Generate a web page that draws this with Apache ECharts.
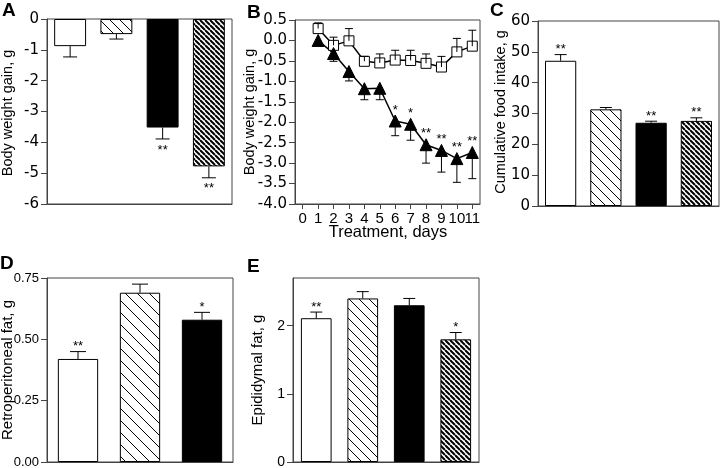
<!DOCTYPE html>
<html><head><meta charset="utf-8">
<script src="https://cdn.jsdelivr.net/npm/echarts@6/dist/echarts.min.js"></script>
<style>html,body{margin:0;padding:0;background:#fff}#c{width:720px;height:468px}</style>
</head><body><div id="c"></div>
<script>
// ---------- data ----------
const groups4 = ['G1', 'G2', 'G3', 'G4'];
const groups3 = ['G1', 'G2', 'G3'];

// Panel A: body weight gain (g)
const aMean = [-0.88, -0.49, -3.52, -4.78];
const aSem = [0.35, 0.16, 0.37, 0.37];
const aStars = ['', '', '**', '**'];

// Panel B: body weight gain over time
const bCats = ['0', '1', '2', '3', '4', '5', '6', '7', '8', '9', '10', '11'];
const bDays = ['1', '2', '3', '4', '5', '6', '7', '8', '9', '10', '11'];
const sqMean = [0.29, -0.12, -0.01, -0.51, -0.55, -0.48, -0.49, -0.56, -0.65, -0.28, -0.14];
const sqSem = [0.14, 0.20, 0.30, 0.12, 0.22, 0.24, 0.25, 0.23, 0.26, 0.33, 0.39];
const trMean = [0.0, -0.32, -0.76, -1.18, -1.17, -1.97, -2.05, -2.55, -2.69, -2.89, -2.74];
const trSem = [0.0, 0.19, 0.23, 0.27, 0.28, 0.36, 0.39, 0.45, 0.53, 0.58, 0.64];
const trStars = ['', '', '', '', '', '*', '*', '**', '**', '**', '**'];

// Panel C: cumulative food intake (g)
const cMean = [47.1, 31.35, 27.0, 27.6];
const cSem = [2.0, 0.6, 0.5, 1.0];
const cStars = ['**', '', '**', '**'];

// Panel D: retroperitoneal fat (g)
const dMean = [0.42, 0.69, 0.58];
const dSem = [0.03, 0.035, 0.03];
const dStars = ['**', '', '*'];

// Panel E: epididymal fat (g)
const eMean = [2.11, 2.40, 2.30, 1.80];
const eSem = [0.09, 0.10, 0.10, 0.10];
const eStars = ['**', '', '', '*'];

// ---------- styling helpers ----------
const FONT = "'Liberation Sans', Arial, sans-serif";
const WIDE = "'DejaVu Sans', 'Liberation Sans', Arial, sans-serif";
const NARROW = "'Liberation Sans Narrow', 'Liberation Sans', Arial, sans-serif";
const AX = '#444';

function hatch(step, lw) {
  const c = document.createElement('canvas');
  c.width = step; c.height = step;
  const g = c.getContext('2d');
  g.fillStyle = '#fff'; g.fillRect(0, 0, step, step);
  g.strokeStyle = '#000'; g.lineWidth = lw; g.beginPath();
  g.moveTo(0, 0); g.lineTo(step, step);
  g.moveTo(-step, 0); g.lineTo(0, step);
  g.moveTo(0, -step); g.lineTo(step, 0);
  g.stroke();
  return { image: c, repeat: 'repeat' };
}
const sparse = hatch(10, 1);
const sparseD = hatch(12, 1);
const dense = hatch(5, 2);
function fills(sp) { return ['#fff', sp, '#000', dense]; }

function barData(means, sp) {
  const f = fills(sp);
  return means.map((v, i) => ({ value: v, itemStyle: { color: f[i], borderColor: '#000', borderWidth: 1 } }));
}

function errSeries(idx, cats, means, sems, dir, cap) {
  return {
    type: 'custom', xAxisIndex: idx, yAxisIndex: idx, z: 5, silent: true,
    data: means.map((m, i) => [cats[i], m, sems[i]]),
    encode: { x: 0, y: 1 },
    renderItem: function (params, api) {
      const x = api.value(0), m = api.value(1), e = api.value(2);
      if (!e) return { type: 'group', children: [] };
      const p0 = api.coord([x, m]);
      const p1 = api.coord([x, m + dir * e]);
      return {
        type: 'group', children: [
          { type: 'line', shape: { x1: p0[0], y1: p0[1], x2: p1[0], y2: p1[1] }, style: { stroke: '#000', lineWidth: 1 } },
          { type: 'line', shape: { x1: p1[0] - cap, y1: p1[1], x2: p1[0] + cap, y2: p1[1] }, style: { stroke: '#000', lineWidth: 1 } }
        ]
      };
    }
  };
}

function starSeries(idx, cats, means, sems, stars, dir, off) {
  return {
    type: 'custom', xAxisIndex: idx, yAxisIndex: idx, z: 6, silent: true,
    data: means.map((m, i) => [cats[i], m, sems[i], i]),
    encode: { x: 0, y: 1 },
    renderItem: function (params, api) {
      const i = api.value(3);
      const s = stars[i];
      if (!s) return { type: 'group', children: [] };
      const p = api.coord([api.value(0), api.value(1) + dir * api.value(2)]);
      return {
        type: 'text', x: p[0], y: p[1] + off,
        style: { text: s, fill: '#000', font: '13px ' + FONT, textAlign: 'center', textVerticalAlign: 'middle' }
      };
    }
  };
}

function yAx(idx, min, max, interval, fmt, fs, fam, custom) {
  const o = {
    type: 'value', gridIndex: idx, min: min, max: max, interval: interval,
    splitLine: { show: false },
    axisLine: { show: true, lineStyle: { color: AX, width: 1 } },
    axisTick: { show: true, length: 6, lineStyle: { color: AX } },
    axisLabel: { color: '#000', fontSize: fs, fontFamily: fam, margin: 8, formatter: fmt }
  };
  if (custom) { o.axisTick.customValues = custom; o.axisLabel.customValues = custom; }
  return o;
}
function xCat(idx, cats) {
  return {
    type: 'category', gridIndex: idx, data: cats,
    axisLine: { show: true, onZero: false, lineStyle: { color: AX } },
    axisTick: { show: false }, axisLabel: { show: false }
  };
}
function grid(l, t, w, h) {
  return { left: l, top: t, width: w, height: h, show: true, borderColor: AX, borderWidth: 1, backgroundColor: 'transparent', outerBoundsMode: 'none' };
}

function letter(t, x, y) {
  return { type: 'text', x: x, y: y, style: { text: t, font: 'bold 19px ' + FONT, fill: '#000', textVerticalAlign: 'top' } };
}
function vTitle(t, x, y, fs) {
  return { type: 'text', x: x, y: y, rotation: Math.PI / 2,
    style: { text: t, font: fs + 'px ' + FONT, fill: '#000', textAlign: 'center', textVerticalAlign: 'middle' } };
}

const option = {
  animation: false,
  backgroundColor: '#fff',
  grid: [
    grid(47, 19, 185, 185),   // A
    grid(295, 20, 185, 184),  // B
    grid(538, 21, 181, 185),  // C
    grid(47, 278, 186, 184),  // D
    grid(293, 278, 186, 184)  // E
  ],
  xAxis: [
    xCat(0, groups4),
    {
      type: 'category', gridIndex: 1, data: bCats, boundaryGap: true,
      axisLine: { show: true, onZero: false, lineStyle: { color: AX } },
      axisTick: { show: true, alignWithLabel: true, length: 5, interval: 0, lineStyle: { color: AX } },
      axisLabel: { interval: 0, color: '#000', fontSize: 15, fontFamily: NARROW, margin: 7 }
    },
    xCat(2, groups4),
    xCat(3, groups3),
    xCat(4, groups4)
  ],
  yAxis: [
    yAx(0, -6, 0, 1, v => String(v), 15, WIDE),
    yAx(1, -4, 0.5, 0.5, v => v.toFixed(1), 15, WIDE),
    yAx(2, 0, 60, 10, v => String(v), 15, WIDE),
    yAx(3, 0, 0.75, 0.25, v => v.toFixed(2), 13, NARROW),
    yAx(4, 0, 2.7, 1, v => String(v), 14, FONT, [0, 1, 2])
  ],
  graphic: [
    letter('A', 2, 1), letter('B', 247, 3), letter('C', 490, 1), letter('D', 0, 254), letter('E', 247, 257),
    vTitle('Body weight gain, g', 8, 113, 14.5),
    vTitle('Body weight gain, g', 250, 112, 14.5),
    vTitle('Cumulative food intake, g', 501, 112, 14.5),
    vTitle('Retroperitoneal fat, g', 8, 370, 15),
    vTitle('Epididymal fat, g', 258, 370, 15),
    { type: 'text', x: 388, y: 232, style: { text: 'Treatment, days', font: '16.5px ' + FONT, fill: '#000', textAlign: 'center', textVerticalAlign: 'middle' } }
  ],
  series: [
    // A
    { type: 'bar', xAxisIndex: 0, yAxisIndex: 0, barWidth: '69%', data: barData(aMean, sparse), z: 2 },
    errSeries(0, groups4, aMean, aSem, -1, 7),
    starSeries(0, groups4, aMean, aSem, aStars, -1, 11),
    // B
    { type: 'line', xAxisIndex: 1, yAxisIndex: 1, data: bDays.map((d, i) => [d, sqMean[i]]),
      symbol: 'rect', symbolSize: 10, lineStyle: { color: '#000', width: 1.5 },
      itemStyle: { color: '#fff', borderColor: '#000', borderWidth: 1 }, z: 4 },
    { type: 'line', xAxisIndex: 1, yAxisIndex: 1, data: bDays.map((d, i) => [d, trMean[i]]),
      symbol: 'triangle', symbolSize: 12, lineStyle: { color: '#000', width: 1.5 },
      itemStyle: { color: '#000', borderColor: '#000' }, z: 4 },
    errSeries(1, bDays, sqMean, sqSem, 1, 4),
    errSeries(1, bDays, trMean, trSem, -1, 4),
    starSeries(1, bDays, trMean, trMean.map(() => 0), trStars, 1, -11),
    // C
    { type: 'bar', xAxisIndex: 2, yAxisIndex: 2, barWidth: '69%', data: barData(cMean, sparse), z: 2 },
    errSeries(2, groups4, cMean, cSem, 1, 6),
    starSeries(2, groups4, cMean, cSem, cStars, 1, -5),
    // D
    { type: 'bar', xAxisIndex: 3, yAxisIndex: 3, barWidth: '65%', data: barData(dMean, sparseD), z: 2 },
    errSeries(3, groups3, dMean, dSem, 1, 8),
    starSeries(3, groups3, dMean, dSem, dStars, 1, -5),
    // E
    { type: 'bar', xAxisIndex: 4, yAxisIndex: 4, barWidth: '66%', data: barData(eMean, sparse), z: 2 },
    errSeries(4, groups4, eMean, eSem, 1, 6),
    starSeries(4, groups4, eMean, eSem, eStars, 1, -5)
  ]
};

const chart = echarts.init(document.getElementById('c'), null, { renderer: 'canvas' });
chart.setOption(option);
</script>
</body></html>
